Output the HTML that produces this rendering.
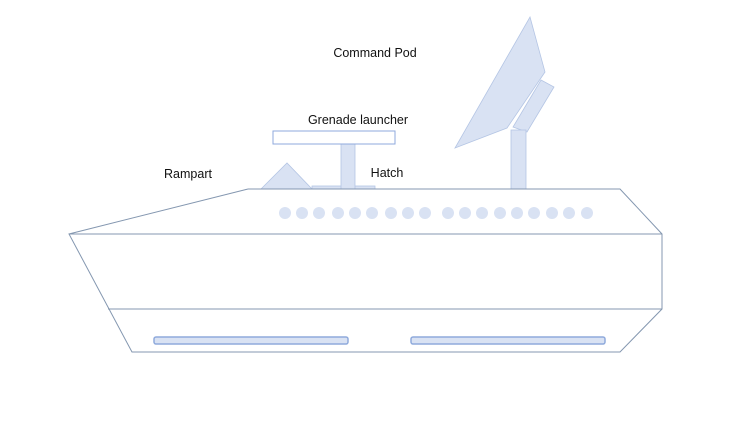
<!DOCTYPE html>
<html><head><style>body{margin:0;background:#fff}svg{display:block}text{font-family:"Liberation Sans",sans-serif;font-size:12.5px;fill:#111}</style></head>
<body>
<svg width="750" height="421" viewBox="0 0 750 421">
<rect width="750" height="421" fill="#fff"/>
<g fill="#d9e2f3" stroke="#b4c5e4" stroke-width="0.8">
<polygon points="530,17 545,72 507,128 455,148"/>
<polygon points="541,80 554,87 527,132 513,127"/>
<rect x="511" y="130" width="15" height="59"/>
<polygon points="261,189 287,163 312,189"/>
<rect x="312" y="186" width="63" height="3"/>
<rect x="341" y="131" width="14" height="58"/>
</g>
<rect x="273" y="131" width="122" height="13" fill="#fff" stroke="#8faadc" stroke-width="1"/>
<g fill="none" stroke="#8497b0" stroke-width="1">
<polyline points="248,189 620,189 662,234 662,309 620,352 132,352 69,234 248,189"/>
<line x1="69" y1="234" x2="662" y2="234"/>
<line x1="108" y1="309" x2="662" y2="309"/>
</g>
<g fill="#d9e2f3">
<circle cx="285" cy="213" r="6"/><circle cx="302" cy="213" r="6"/><circle cx="319" cy="213" r="6"/><circle cx="338" cy="213" r="6"/><circle cx="355" cy="213" r="6"/><circle cx="372" cy="213" r="6"/><circle cx="391" cy="213" r="6"/><circle cx="408" cy="213" r="6"/><circle cx="425" cy="213" r="6"/>
<circle cx="448" cy="213" r="6"/><circle cx="465" cy="213" r="6"/><circle cx="482" cy="213" r="6"/><circle cx="500" cy="213" r="6"/><circle cx="517" cy="213" r="6"/><circle cx="534" cy="213" r="6"/><circle cx="552" cy="213" r="6"/><circle cx="569" cy="213" r="6"/><circle cx="587" cy="213" r="6"/>
</g>
<g fill="#d9e2f3" stroke="#8faadc" stroke-width="1.5">
<rect x="154" y="337" width="194" height="7" rx="2"/>
<rect x="411" y="337" width="194" height="7" rx="2"/>
</g>
<text x="375" y="57" text-anchor="middle">Command Pod</text>
<text x="358" y="124" text-anchor="middle">Grenade launcher</text>
<text x="387" y="177" text-anchor="middle">Hatch</text>
<text x="188" y="178" text-anchor="middle">Rampart</text>
</svg>
</body></html>
